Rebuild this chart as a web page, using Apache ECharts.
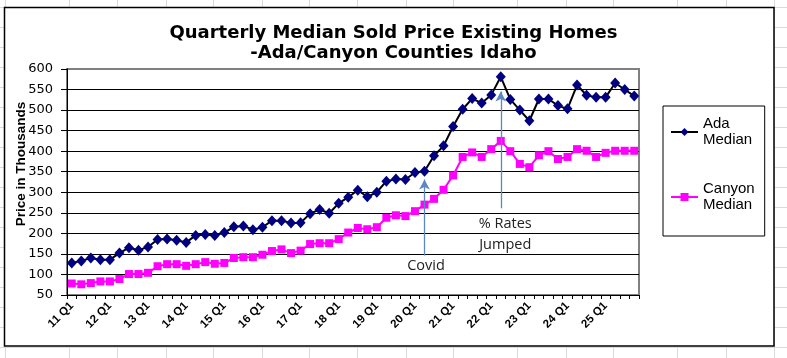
<!DOCTYPE html>
<html><head><meta charset="utf-8">
<script src="https://cdn.jsdelivr.net/npm/echarts@6/dist/echarts.min.js"></script>
<style>html,body{margin:0;padding:0;background:#fff}#c{width:787px;height:358px}</style>
</head><body><div id="c"></div>
<script>
// ---- data ----
const categories = [
  "11 Q1","11 Q2","11 Q3","11 Q4","12 Q1","12 Q2","12 Q3","12 Q4",
  "13 Q1","13 Q2","13 Q3","13 Q4","14 Q1","14 Q2","14 Q3","14 Q4",
  "15 Q1","15 Q2","15 Q3","15 Q4","16 Q1","16 Q2","16 Q3","16 Q4",
  "17 Q1","17 Q2","17 Q3","17 Q4","18 Q1","18 Q2","18 Q3","18 Q4",
  "19 Q1","19 Q2","19 Q3","19 Q4","20 Q1","20 Q2","20 Q3","20 Q4",
  "21 Q1","21 Q2","21 Q3","21 Q4","22 Q1","22 Q2","22 Q3","22 Q4",
  "23 Q1","23 Q2","23 Q3","23 Q4","24 Q1","24 Q2","24 Q3","24 Q4",
  "25 Q1","25 Q2","25 Q3","25 Q4"
];
const adaMedian = [
  128,133,140,136,136,152,165,159,167,185,
  186,183,178,195,197,195,202,216,218,209,
  215,231,231,225,226,248,258,249,273,288,
  305,289,300,327,332,331,348,351,389,413,
  460,502,528,517,537,581,526,500,474,527,
  527,511,503,561,536,531,531,566,550,534
];
const canyonMedian = [
  78,76,79,83,83,89,101,101,104,120,
  125,125,121,125,130,126,128,140,142,142,
  148,157,161,152,158,174,176,176,186,202,
  213,210,215,238,244,242,254,270,284,306,
  341,386,397,386,405,425,400,369,361,390,
  400,381,386,405,401,386,396,401,401,401
];
const seriesNames = ["Ada Median", "Canyon Median"];
const yMin = 50, yMax = 600, yStep = 50;
// annotation arrows: category index, value at tail, value at head
const annotationLabels = ["Covid", "% Rates\nJumped"];
const annotationIndex = [37, 45];
const annotationFrom = [146, 261];
const annotationTo = [331, 545];

// ---- spreadsheet background (decoration) ----
const sheetColX = [5,69,117,166,213,262,309,357,406,453,517,566,613,677,726,774];
const graphics = [];
for (let y = 7; y <= 358; y += 20) {
  graphics.push({type:'line', z:-20, silent:true, shape:{x1:0,y1:y+0.5,x2:787,y2:y+0.5}, style:{stroke:'#dadada', lineWidth:1}});
}
sheetColX.forEach(x => {
  graphics.push({type:'line', z:-20, silent:true, shape:{x1:x+0.5,y1:0,x2:x+0.5,y2:358}, style:{stroke:'#dadada', lineWidth:1}});
});
graphics.push({type:'rect', z:-10, silent:true, shape:{x:4.5,y:7.5,width:769.5,height:338.5}, style:{fill:'#fff', stroke:'#000', lineWidth:1.5}});

const chart = echarts.init(document.getElementById('c'), null, {renderer:'canvas'});
chart.setOption({
  animation: false,
  backgroundColor: '#fff',
  graphic: graphics,
  title: {
    text: 'Quarterly Median Sold Price Existing Homes\n-Ada/Canyon Counties Idaho',
    left: 'center', top: 23, padding: [0,0,0,49],
    textStyle: {fontFamily:'DejaVu Sans', fontWeight:'bold', fontSize:18, lineHeight:20, color:'#000'}
  },
  legend: {
    orient: 'vertical', left: 663, top: 106,
    padding: [2,10,15,7], itemGap: 17, itemWidth: 27, itemHeight: 10,
    borderColor: '#000', borderWidth: 1,
    data: seriesNames,
    formatter: n => n.replace(' ', '\n'),
    textStyle: {fontFamily:'Liberation Sans', fontSize:15, lineHeight:16, color:'#000', padding:[16,0,0,0]}
  },
  grid: {left:67, right:148, top:69, bottom:63, show:true, borderColor:'#808080', borderWidth:2,
         backgroundColor:'transparent', outerBoundsMode:'none', containLabel:false},
  xAxis: {
    type: 'category', data: categories, boundaryGap: true,
    axisLine: {lineStyle:{color:'#000', width:1}},
    axisTick: {show:true, interval:0, length:4, lineStyle:{color:'#000'}},
    axisLabel: {interval:3, rotate:45, fontFamily:'Liberation Sans', fontWeight:'bold', fontSize:11.5, color:'#000', margin:9},
    splitLine: {show:false}
  },
  yAxis: {
    type: 'value', min: yMin, max: yMax, interval: yStep,
    axisLine: {show:true, lineStyle:{color:'#000', width:1}},
    axisTick: {show:true, length:6, lineStyle:{color:'#000'}},
    axisLabel: {fontFamily:'DejaVu Sans', fontSize:13, color:'#000', margin:14},
    splitLine: {show:true, showMaxLine:false, lineStyle:{color:'#000', width:1}},
    name: 'Price in Thousands', nameLocation: 'middle', nameGap: 39, nameMoveOverlap: false,
    nameTextStyle: {fontFamily:'Liberation Sans', fontWeight:'bold', fontSize:13.5, color:'#000', padding:[0,0,0,36]}
  },
  series: [
    {
      name: seriesNames[0], type: 'line', data: adaMedian,
      symbol: 'diamond', symbolSize: [10,11], showAllSymbol: true,
      itemStyle: {color:'#000080'},
      lineStyle: {color:'#000', width:2},
      z: 4,
      markLine: {
        silent: true, animation: false,
        symbol: ['none','arrow'], symbolSize: [8,10],
        lineStyle: {color:'#5b87c5', width:1.3, type:'solid'},
        label: {show:true, position:'start', distance:1, color:'#222', fontFamily:'Open Sans', fontSize:14.5, lineHeight:21},
        data: annotationLabels.map((t, i) => [
          {coord:[annotationIndex[i], annotationFrom[i]], label:{formatter:t, padding: i === 0 ? [0,0,0,3] : [0,0,0,9], distance: i === 0 ? 0 : 5}},
          {coord:[annotationIndex[i], annotationTo[i]]}
        ])
      }
    },
    {
      name: seriesNames[1], type: 'line', data: canyonMedian,
      symbol: 'rect', symbolSize: 8, showAllSymbol: true,
      itemStyle: {color:'#ff00ff'},
      lineStyle: {color:'#ff00ff', width:2},
      z: 3
    }
  ]
});
</script>
</body></html>
